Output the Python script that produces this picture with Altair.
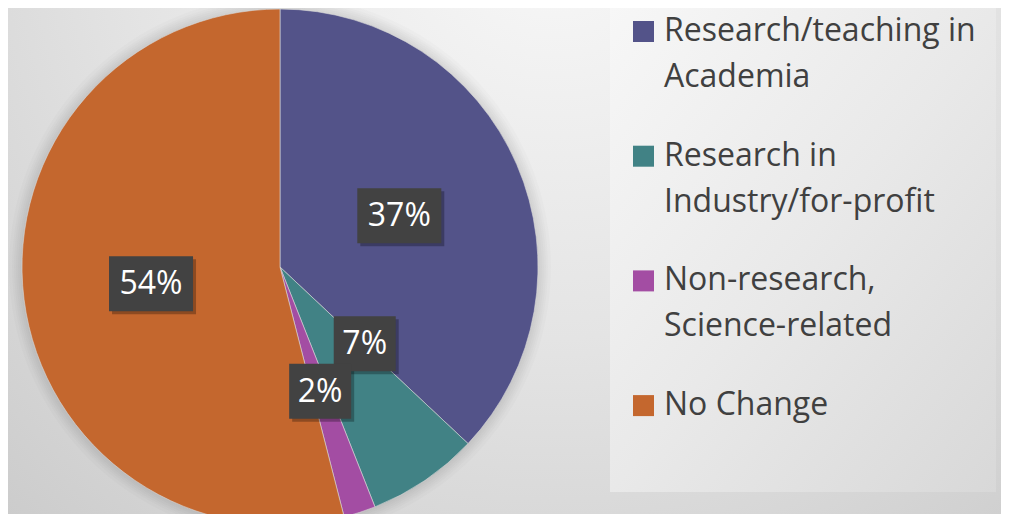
import math
import altair as alt
import pandas as pd

# ---- data ----
categories = [
    "Research/teaching in Academia",
    "Research in Industry/for-profit",
    "Non-research, Science-related",
    "No Change",
]
values = [37, 7, 2, 54]
pct_labels = ["37%", "7%", "2%", "54%"]
legend_lines = [
    ["Research/teaching in", "Academia"],
    ["Research in", "Industry/for-profit"],
    ["Non-research,", "Science-related"],
    ["No Change"],
]
colors = ["#535389", "#418285", "#a34da3", "#c4672e"]

# ---- layout / style ----
W, H = 993, 506
CX, CY, R = 272, 259, 258
LR = 130
FONT = "Open Sans"
LEG_Y0, LEG_STEP = 33, 124.7

df = pd.DataFrame({
    "category": categories,
    "value": values,
    "label": pct_labels,
    "order": list(range(len(categories))),
    "legend": ["\n".join(l) for l in legend_lines],
})
one = pd.DataFrame({"k": [0]})

color_scale = alt.Scale(domain=categories, range=colors)

bg = alt.Chart(one).mark_rect(
    color=alt.RadialGradient(
        gradient="radial",
        x1=0.55, y1=0.15, r1=0.0,
        x2=0.55, y2=0.15, r2=0.95,
        stops=[
            alt.GradientStop(offset=0, color="#f9f9f9"),
            alt.GradientStop(offset=0.45, color="#e4e4e4"),
            alt.GradientStop(offset=1, color="#c4c4c4"),
        ],
    )
).encode(x=alt.value(0), x2=alt.value(W), y=alt.value(0), y2=alt.value(H))

legend_box = alt.Chart(one).mark_rect(
    color=alt.LinearGradient(
        gradient="linear",
        x1=0, y1=0, x2=1, y2=1,
        stops=[
            alt.GradientStop(offset=0, color="#f7f7f7"),
            alt.GradientStop(offset=0.5, color="#e9e9e9"),
            alt.GradientStop(offset=1, color="#d8d8d8"),
        ],
    )
).encode(x=alt.value(602), x2=alt.value(988), y=alt.value(0), y2=alt.value(484))

shadows = [
    alt.Chart(one).mark_arc(radius=R + k, theta=0, theta2=2 * math.pi,
                            color="black", opacity=0.015)
    .encode(x=alt.value(CX), y=alt.value(CY))
    for k in (2, 4, 6, 8, 10, 13)
]

pie = alt.Chart(df).mark_arc(radius=R, stroke="#d9d9d9", strokeWidth=0.6).encode(
    theta=alt.Theta("value:Q", stack=True),
    color=alt.Color("category:N", scale=color_scale, legend=None),
    order=alt.Order("order:Q"),
    x=alt.value(CX),
    y=alt.value(CY),
)

lab_base = alt.Chart(df).transform_window(
    cum="sum(value)", sort=[alt.SortField("order")], frame=[None, 0]
).transform_joinaggregate(
    total="sum(value)"
).transform_calculate(
    mid="(datum.cum - datum.value / 2) / datum.total * 2 * PI",
    nudge="datum.category == 'Research in Industry/for-profit' ? -0.241 : 0",
    rr=f"datum.category == 'Research in Industry/for-profit' ? 114 : {LR}",
).transform_calculate(
    lx=f"{CX} + datum.rr * sin(datum.mid + datum.nudge)",
    ly=f"{CY} - datum.rr * cos(datum.mid + datum.nudge)",
    bw="18 + 22 * length(datum.label)",
).transform_calculate(
    bx1="datum.lx - datum.bw / 2",
    bx2="datum.lx + datum.bw / 2",
    by1="datum.ly - 27",
    by2="datum.ly + 28",
    sx1="datum.lx - datum.bw / 2 + 3",
    sx2="datum.lx + datum.bw / 2 + 3",
    sy1="datum.ly - 24",
    sy2="datum.ly + 31",
)

lab_shadow = lab_base.mark_rect(color="black", opacity=0.28).encode(
    x=alt.X("sx1:Q", scale=None, axis=None), x2="sx2:Q",
    y=alt.Y("sy1:Q", scale=None, axis=None), y2="sy2:Q",
)
lab_box = lab_base.mark_rect(color="#424242").encode(
    x=alt.X("bx1:Q", scale=None, axis=None), x2="bx2:Q",
    y=alt.Y("by1:Q", scale=None, axis=None), y2="by2:Q",
)
lab_text = lab_base.mark_text(
    font=FONT, fontSize=32, color="white", align="center", baseline="middle", dy=1
).encode(
    x=alt.X("lx:Q", scale=None, axis=None),
    y=alt.Y("ly:Q", scale=None, axis=None),
    text="label:N",
)

leg_base = alt.Chart(df).transform_calculate(
    sx="635.5",
    sy=f"{LEG_Y0} - 9.5 + {LEG_STEP} * datum.order",
    tx="656",
    ty=f"{LEG_Y0} + {LEG_STEP} * datum.order",
)
leg_sq = leg_base.mark_square(size=441, opacity=1).encode(
    x=alt.X("sx:Q", scale=None, axis=None),
    y=alt.Y("sy:Q", scale=None, axis=None),
    color=alt.Color("category:N", scale=color_scale, legend=None),
)
leg_text = leg_base.mark_text(
    font=FONT, fontSize=32, color="#404040", align="left",
    baseline="alphabetic", lineBreak="\n", lineHeight=46,
).encode(
    x=alt.X("tx:Q", scale=None, axis=None),
    y=alt.Y("ty:Q", scale=None, axis=None),
    text="legend:N",
)

chart = alt.layer(
    bg, legend_box, *shadows, pie, lab_shadow, lab_box, lab_text, leg_sq, leg_text
).properties(
    width=W, height=H,
    autosize=alt.AutoSizeParams(type="none"),
    padding=0,
    background="#d8d8d8",
).configure_view(stroke=None)

chart.save("out.html", embed_options={"renderer": "svg", "actions": False})
